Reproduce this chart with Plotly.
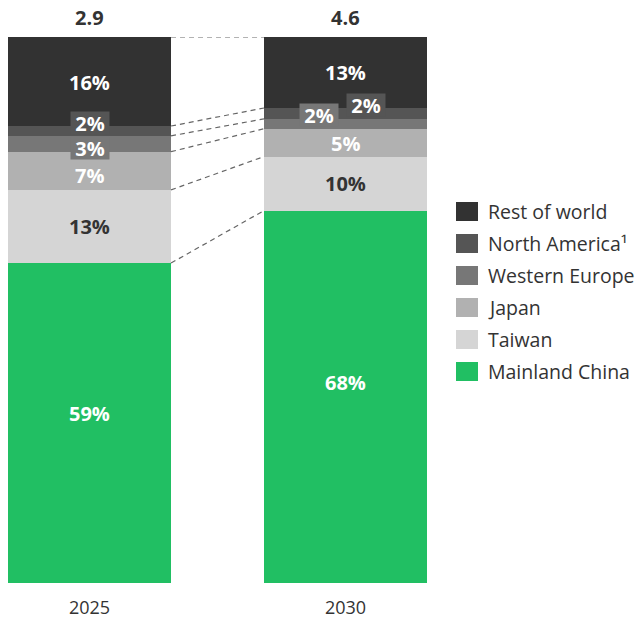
import plotly.graph_objects as go

years = ["2025", "2030"]
totals = ["2.9", "4.6"]
regions = ["Mainland China", "Taiwan", "Japan", "Western Europe", "North America¹", "Rest of world"]
share_2025 = [58.6, 13.4, 7.0, 2.9, 1.8, 16.3]
share_2030 = [68.2, 9.9, 5.1, 1.8, 2.0, 13.0]
colors = ["#21bf63", "#d5d5d5", "#b1b1b1", "#777777", "#555555", "#323232"]
text_colors = ["#ffffff", "#333333", "#ffffff", "#ffffff", "#ffffff", "#ffffff"]

FONT = "Open Sans"
W, H = 636, 620
ML, MR, MT, MB = 8, 209, 37, 37
BAR_W = 0.637
xpos = [0, 1]

fig = go.Figure()
for i, r in enumerate(regions):
    fig.add_trace(go.Bar(
        x=xpos, y=[share_2025[i], share_2030[i]], name=r,
        marker=dict(color=colors[i], line=dict(width=0)),
        width=BAR_W, showlegend=False, hoverinfo="skip"))

# connectors
def cums(vals):
    out, c = [], 0
    for v in vals:
        c += v
        out.append(c)
    return out
c25, c30 = cums(share_2025), cums(share_2030)
for a, b in zip(c25, c30):
    fig.add_trace(go.Scatter(
        x=[xpos[0] + BAR_W / 2, xpos[1] - BAR_W / 2], y=[a, b], mode="lines",
        line=dict(color="#666666", width=1.2, dash="5px,4px"),
        showlegend=False, hoverinfo="skip"))

# segment labels: (xshift, yshift, boxed)
adj_2025 = [(0, 10, False), (0, 0, False), (0, -5, False), (0, -4, True), (0, 8, True), (0, -1, False)]
adj_2030 = [(0, 14, False), (0, 0, False), (0, -1, False), (-26, 9, True), (21, 8, True), (0, 0, False)]
for xi, vals, cum, adj in [(0, share_2025, c25, adj_2025), (1, share_2030, c30, adj_2030)]:
    for i, v in enumerate(vals):
        mid = cum[i] - v / 2
        xs, ys, boxed = adj[i]
        kw = dict(bgcolor=colors[i], width=38, height=22, borderpad=0, valign="middle") if boxed else {}
        fig.add_annotation(
            x=xpos[xi], y=mid, text=f"<b>{round(v)}%</b>", showarrow=False,
            xshift=xs, yshift=ys,
            font=dict(family=FONT, size=20, color=text_colors[i]), **kw)

# totals
for xi, t in enumerate(totals):
    fig.add_annotation(x=xpos[xi], y=100, text=f"<b>{t}</b>", showarrow=False,
                       yanchor="bottom", yshift=4,
                       font=dict(family=FONT, size=20, color="#333333"))

# manual legend
pw = W - ML - MR
ph = H - MT - MB
def px(x):
    return (x - ML) / pw
def py(y):
    return (H - MB - y) / ph
for k, i in enumerate(reversed(range(len(regions)))):
    top = 202 + 32 * k
    fig.add_shape(type="rect", xref="paper", yref="paper",
                  x0=px(456), x1=px(478), y0=py(top + 19), y1=py(top),
                  fillcolor=colors[i], line=dict(width=0))
    fig.add_annotation(xref="paper", yref="paper", x=px(486), y=py(top + 9.5),
                       xanchor="left", yanchor="middle", text=regions[i], showarrow=False,
                       font=dict(family=FONT, size=19.5, color="#333333"))

fig.update_layout(
    barmode="stack", width=W, height=H,
    margin=dict(l=ML, r=MR, t=MT, b=MB, autoexpand=False),
    paper_bgcolor="white", plot_bgcolor="white",
    xaxis=dict(range=[-BAR_W / 2, 1 + BAR_W / 2], tickvals=xpos, ticktext=years,
               ticks="outside", ticklen=8, tickcolor="rgba(0,0,0,0)", automargin=False,
               tickfont=dict(family=FONT, size=18, color="#333333"),
               showgrid=False, zeroline=False, showline=False, fixedrange=True),
    yaxis=dict(range=[0, 100], visible=False, fixedrange=True, automargin=False),
    bargap=0,
)
fig.write_html("out.html")
